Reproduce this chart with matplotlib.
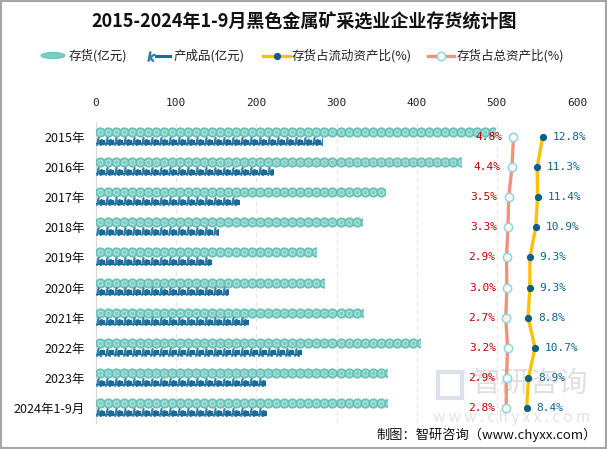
import numpy as np
import matplotlib
matplotlib.use("Agg")
import matplotlib.pyplot as plt
from matplotlib.patches import Rectangle, Ellipse

plt.rcParams['font.family'] = ['Noto Sans CJK SC', 'DejaVu Sans']

categories = ['2015年', '2016年', '2017年', '2018年', '2019年', '2020年',
              '2021年', '2022年', '2023年', '2024年1-9月']
inventory = [498, 455, 360, 332, 275, 285, 333, 404, 363, 363]        # 存货(亿元)
finished = [282, 221, 179, 152, 143, 165, 190, 256, 211, 212]         # 产成品(亿元)
pct_current = [12.8, 11.3, 11.4, 10.9, 9.3, 9.3, 8.8, 10.7, 8.9, 8.4]  # 存货占流动资产比(%)
pct_total = [4.8, 4.4, 3.5, 3.3, 2.9, 3.0, 2.7, 3.2, 2.9, 2.8]         # 存货占总资产比(%)
xticks = [0, 100, 200, 300, 400, 500, 600]

W, H = 607, 449
fig = plt.figure(figsize=(W / 100, H / 100), dpi=100)
fig.patch.set_facecolor('white')

# main axes
ax = fig.add_axes([96 / W, 1 - 423 / H, 481 / W, 301 / H])
ax.set_xlim(0, 600)
ax.set_ylim(len(categories) - 0.5, -0.5)
ax.set_facecolor('none')

y = np.arange(len(categories))
inv_off, fin_off = -0.165, 0.135
d_inv = 10.0
d_fin = 11.2

for i, (v, f) in enumerate(zip(inventory, finished)):
    # inventory: repeated circles clipped at value
    yc = y[i] + inv_off
    xs = np.arange(d_inv / 2, v + d_inv / 2, d_inv)
    clip = Rectangle((0, yc - 0.17), v, 0.34, transform=ax.transData)
    l1, = ax.plot(xs, np.full_like(xs, yc), ls='none', marker='o', ms=6.6,
                  mfc='#7ccdc4', mec='#5ab8ad', mew=0.7, zorder=3)
    l2, = ax.plot(xs, np.full_like(xs, yc), ls='none', marker='o', ms=3.4,
                  mfc='none', mec='#b3e3dc', mew=0.7, zorder=4)
    l1.set_clip_path(clip)
    l2.set_clip_path(clip)
    # finished goods: repeated glyphs with underline
    yf = y[i] + fin_off
    xs2 = np.arange(d_fin / 2, f + d_fin / 2, d_fin)
    clip2 = Rectangle((0, yf - 0.14), f, 0.28, transform=ax.transData)
    l3, = ax.plot(xs2 - 1.5, np.full_like(xs2, yf - 0.01), ls='none', marker=r'$\mathit{k}$',
                  ms=5.2, color='#2f80ad', zorder=3)
    l4, = ax.plot(xs2 + 2.5, np.full_like(xs2, yf + 0.02), ls='none', marker='s',
                  ms=2.4, color='#1d6a95', zorder=3)
    l3.set_clip_path(clip2)
    l4.set_clip_path(clip2)
    ax.barh(yf + 0.085, f, height=0.03, left=0, color='#1d6a95', zorder=3)

# secondary axis for percentage lines
ax2 = ax.twiny()
ax2.set_xlim(-109.5, 22.2)
ax2.set_ylim(ax.get_ylim())
ax2.axis('off')
ax2.plot(pct_total, y, color='#f0937d', lw=2.4, zorder=5, solid_capstyle='round')
ax2.plot(pct_total, y, ls='none', marker='o', ms=6, mfc='#fffbea', mec='#8fd2f2', mew=1.1, zorder=6)
ax2.plot(pct_current, y, color='#ffc000', lw=2.4, zorder=5, solid_capstyle='round')
ax2.plot(pct_current, y, ls='none', marker='o', ms=4.2, mfc='#0d5f86', mec='#0d5f86', zorder=6)
for i in range(len(categories)):
    ax2.annotate(f'{pct_total[i]:.1f}%', (pct_total[i], y[i]), xytext=(-8, 0),
                 textcoords='offset points', ha='right', va='center', fontsize=8,
                 family='DejaVu Sans Mono', color='#c00000', zorder=7)
    ax2.annotate(f'{pct_current[i]:.1f}%', (pct_current[i], y[i]), xytext=(7, 0),
                 textcoords='offset points', ha='left', va='center', fontsize=8,
                 family='DejaVu Sans Mono', color='#10658c', zorder=7)

# main axis styling (after twiny, which resets tick side)
for s in ['top', 'right', 'bottom']:
    ax.spines[s].set_visible(False)
ax.spines['left'].set_color('#d9d9d9')
ax.xaxis.tick_top()
ax.xaxis.set_label_position('top')
ax.set_xticks(xticks)
ax.set_xticklabels([str(t) for t in xticks], fontsize=8, family='DejaVu Sans Mono', color='#222222')
ax.tick_params(axis='x', length=0, pad=10, top=True, bottom=False, labeltop=True, labelbottom=False)
ax.set_yticks(range(len(categories)))
ax.set_yticklabels(categories, fontsize=9, color='#111111')
ax.tick_params(axis='y', length=0, pad=8)
for t in xticks[1:]:
    ax.axvline(t, color='#e6e6e6', lw=0.8, ls=(0, (4, 3)), zorder=0)

# overlay in pixel coordinates for title, legend, notes
ov = fig.add_axes([0, 0, 1, 1], zorder=-1)
ov.set_xlim(0, W)
ov.set_ylim(H, 0)
ov.axis('off')

ov.text(304.5, 22, '2015-2024年1-9月黑色金属矿采选业企业存货统计图', ha='center', va='center',
        fontsize=13, fontweight='bold', color='#111111')

ly = 55.5
ov.add_patch(Ellipse((53, ly), 24, 6, facecolor='#7ccdc4', edgecolor='#57b6ab', lw=0.6))
ov.text(69, ly, '存货(亿元)', ha='left', va='center', fontsize=9, color='#222222')
ov.plot([156, 170], [ly + 0.5, ly + 0.5], color='#1d6a95', lw=2.2)
ov.plot([151], [ly], marker=r'$\mathit{k}$', ms=6.5, color='#2f80ad', ls='none')
ov.text(174, ly, '产成品(亿元)', ha='left', va='center', fontsize=9, color='#222222')
ov.plot([263, 290], [ly, ly], color='#ffc000', lw=2.4)
ov.plot([277], [ly], marker='o', ms=4.2, color='#0d5f86', ls='none')
ov.text(292, ly, '存货占流动资产比(%)', ha='left', va='center', fontsize=9, color='#222222')
ov.plot([428, 454], [ly, ly], color='#f0937d', lw=2.4)
ov.plot([441], [ly], marker='o', ms=6, mfc='#fffbea', mec='#8fd2f2', mew=1.1, ls='none')
ov.text(457, ly, '存货占总资产比(%)', ha='left', va='center', fontsize=9, color='#222222')

# watermark
ov.text(530, 384, '智研咨询', ha='center', va='center', fontsize=21, color='#cccccc', alpha=0.6)
ov.text(512, 418, 'w w w . c h y x x . c o m', ha='center', va='center', fontsize=11,
        color='#d0d0d0', alpha=0.6)
ov.add_patch(Rectangle((438, 372), 24, 26, facecolor='none', edgecolor='#c6d0e2', lw=3, alpha=0.6))

ov.text(597, 435, '制图：智研咨询（www.chyxx.com）', ha='right', va='center', fontsize=9.5,
        color='#111111')

ov.add_patch(Rectangle((0.75, 0.75), W - 1.5, H - 1.5, facecolor='none', edgecolor='#a6a6a6', lw=1.5))

fig.savefig('out.png', dpi=100, facecolor='white')
